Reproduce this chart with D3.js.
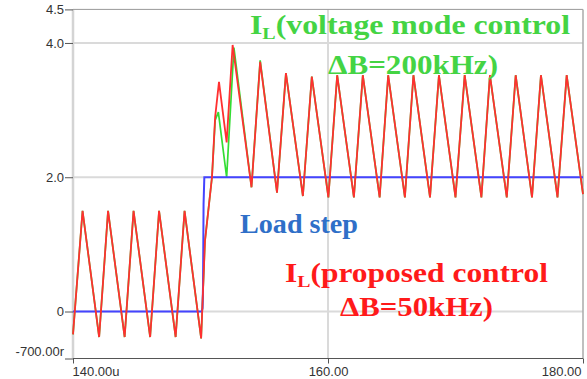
<!DOCTYPE html>
<html>
<head>
<meta charset="utf-8">
<script src="https://cdn.jsdelivr.net/npm/d3@7"></script>
<style>
  body { margin: 0; background: #fff; }
  svg { display: block; }
</style>
</head>
<body>
<svg id="chart" width="587" height="379"></svg>
<script>
// time axis in us, current in A
const xTicks = [140, 160, 180];
const xTickLabels = ["140.00u", "160.00", "180.00"];
const yTicks = [-0.7, 0, 2, 4, 4.5];
const yTickLabels = ["-700.00r", "0", "2.0", "4.0", "4.5"];
const yGrid = [0, 2, 4];
const xGrid = [160];

// load step (blue)
const stepTime = [140, 150.1, 150.16, 150.2, 150.24, 150.3, 180];
const stepVal  = [0, 0, 0.05, 0.4, 1.6, 2.0, 2.0];

// I_L proposed control (red)
const redTime = [140, 140.75, 142.05, 142.75, 144.05, 144.75, 146.05, 146.75, 148.05, 148.75,
  150.05, 150.35, 150.9, 151.15, 151.45, 152.05, 152.52, 154.0, 154.68, 156.0, 156.7,
  158.03, 158.73, 160.03, 160.72, 162.03, 162.73, 164.05, 164.72, 166.03, 166.7, 168.0,
  168.7, 170.0, 170.72, 172.03, 172.7, 174.02, 174.72, 176.0, 176.7, 178.0, 178.72, 180];
const redVal = [-0.34, 1.5, -0.38, 1.5, -0.38, 1.5, -0.38, 1.5, -0.38, 1.5,
  -0.4, 1.05, 2.0, 2.9, 3.42, 2.52, 3.97, 1.85, 3.72, 1.77, 3.55,
  1.72, 3.5, 1.7, 3.52, 1.7, 3.52, 1.7, 3.52, 1.7, 3.52, 1.7,
  3.52, 1.7, 3.52, 1.7, 3.52, 1.7, 3.52, 1.7, 3.52, 1.7, 3.52, 1.75];

// I_L voltage mode control (green)
const greenTime = [140, 140.75, 142.05, 142.75, 144.05, 144.75, 146.05, 146.75, 148.05, 148.75,
  150.05, 150.35, 150.9, 151.15, 151.4, 152.05, 152.62, 154.0, 154.68, 156.0, 156.7,
  158.03, 158.73, 160.03, 160.72, 162.03, 162.73, 164.05, 164.72, 166.03, 166.7, 168.0,
  168.7, 170.0, 170.72, 172.03, 172.7, 174.02, 174.72, 176.0, 176.7, 178.0, 178.72, 180];
const greenVal = [-0.34, 1.5, -0.38, 1.5, -0.38, 1.5, -0.38, 1.5, -0.38, 1.5,
  -0.4, 1.05, 2.0, 2.85, 2.97, 2.0, 3.93, 1.85, 3.74, 1.77, 3.55,
  1.72, 3.5, 1.7, 3.52, 1.7, 3.52, 1.7, 3.52, 1.7, 3.52, 1.7,
  3.52, 1.7, 3.52, 1.7, 3.52, 1.7, 3.52, 1.7, 3.52, 1.7, 3.52, 1.75];

const svg = d3.select('#chart');

const x = d3.scaleLinear().domain([140, 180]).range([73, 583]);
const y = d3.scaleLinear().domain([-0.7, 4.5]).range([358.5, 9.4]);

// grid
svg.selectAll('.hgrid').data(yGrid).enter().append('line')
  .attr('x1', x(140)).attr('x2', x(180))
  .attr('y1', d => y(d)).attr('y2', d => y(d))
  .attr('stroke', '#dadada').attr('stroke-width', 2);
svg.selectAll('.vgrid').data(xGrid).enter().append('line')
  .attr('x1', d => x(d)).attr('x2', d => x(d))
  .attr('y1', y(4.5)).attr('y2', y(-0.7))
  .attr('stroke', '#dadada').attr('stroke-width', 2);

// frame: left light line, top and right borders
svg.append('line').attr('x1', x(140)).attr('x2', x(140)).attr('y1', y(4.5)).attr('y2', y(-0.7))
  .attr('stroke', '#d4d4d4').attr('stroke-width', 2.5);
svg.append('line').attr('x1', x(140)).attr('x2', x(180)).attr('y1', y(4.5)).attr('y2', y(4.5))
  .attr('stroke', '#999').attr('stroke-width', 1);
svg.append('line').attr('x1', x(180)).attr('x2', x(180)).attr('y1', y(4.5)).attr('y2', y(-0.7))
  .attr('stroke', '#aaa').attr('stroke-width', 1.5);

// axes
const yAxis = d3.axisLeft(y).tickValues(yTicks).tickSize(8).tickPadding(1)
  .tickFormat((d, i) => yTickLabels[i]);
const gy = svg.append('g').attr('transform', `translate(${x(140)},0)`).call(yAxis);
gy.select('.domain').remove();
gy.selectAll('line').attr('stroke', '#555');
gy.selectAll('text').attr('fill', '#333')
  .style('font-family', 'Liberation Sans, Arial, sans-serif').style('font-size', '13px');
gy.selectAll('.tick').filter(d => d === -0.7).select('text').attr('dy', '-0.2em');

const xAxis = d3.axisBottom(x).tickValues(xTicks).tickSize(5).tickPadding(3)
  .tickFormat((d, i) => xTickLabels[i]);
const gx = svg.append('g').attr('transform', `translate(0,${y(-0.7)})`).call(xAxis);
gx.select('.domain').attr('d', `M${x(140)},0H${x(180)}`).attr('stroke', '#555');
gx.selectAll('line').attr('stroke', '#555');
gx.selectAll('text').attr('fill', '#333')
  .style('font-family', 'Liberation Sans, Arial, sans-serif').style('font-size', '13px')
  .attr('text-anchor', (d, i) => i === 0 ? 'start' : (i === xTicks.length - 1 ? 'end' : 'middle'))
  .attr('dx', (d, i) => i === 0 ? '-1' : (i === xTicks.length - 1 ? '-2' : '0'));

// traces
const line = d3.line().x(d => x(d[0])).y(d => y(d[1]));
const zip = (a, b) => a.map((t, i) => [t, b[i]]);

svg.append('path').datum(zip(greenTime, greenVal)).attr('d', line)
  .attr('fill', 'none').attr('stroke', '#33dd33').attr('stroke-width', 1.7);
svg.append('path').datum(zip(stepTime, stepVal)).attr('d', line)
  .attr('fill', 'none').attr('stroke', '#4444ff').attr('stroke-width', 2);
svg.append('path').datum(zip(redTime, redVal)).attr('d', line)
  .attr('fill', 'none').attr('stroke', '#ff3030').attr('stroke-width', 1.8);

// annotations
const serif = 'Liberation Serif, Times New Roman, serif';
function label(xp, yp, txt, sub, rest, color, w) {
  const t = svg.append('text').attr('x', xp).attr('y', yp)
    .attr('fill', color).style('font-family', serif).style('font-weight', 'bold')
    .style('font-size', '27px');
  if (w) t.attr('textLength', w).attr('lengthAdjust', 'spacingAndGlyphs');
  t.append('tspan').text(txt);
  if (sub) {
    t.append('tspan').text(sub).style('font-size', '17px').attr('dy', 5);
    t.append('tspan').text(rest).attr('dy', -5);
  }
  return t;
}
label(250, 34, 'I', 'L', '(voltage  mode  control', '#44d444', 320);
label(328, 74, '\u0394B=200kHz)', null, null, '#44d444', 170);
label(240, 233, 'Load step', null, null, '#2f6fc8', 118);
label(285, 282, 'I', 'L', '(proposed control', '#ff1a1a', 263);
label(340, 316, '\u0394B=50kHz)', null, null, '#ff1a1a', 153);
</script>
</body>
</html>
